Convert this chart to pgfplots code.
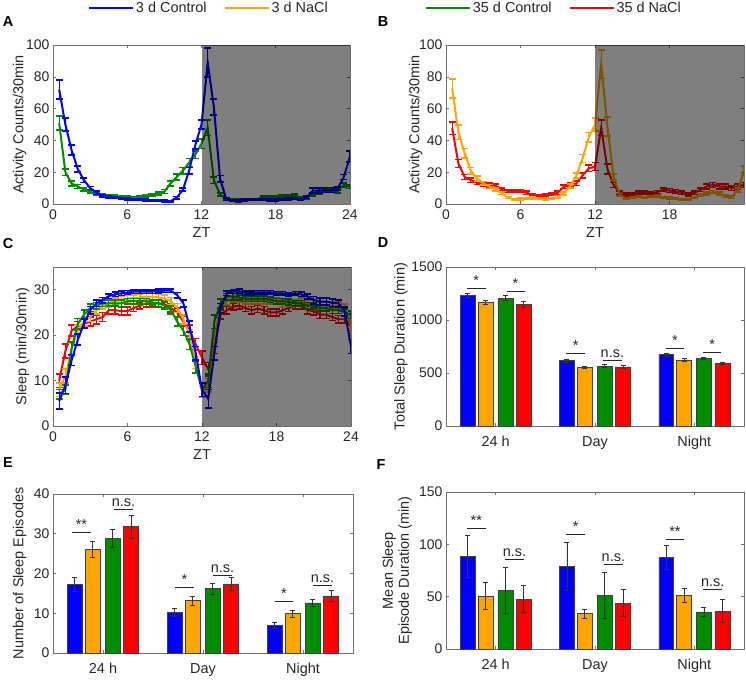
\documentclass[border=0pt]{standalone}
\usepackage{fontspec}
\setmainfont{Liberation Sans}
\usepackage{pgfplots}
\pgfplotsset{compat=1.18}
\definecolor{cblue}{RGB}{0,0,255}
\definecolor{corange}{RGB}{255,165,0}
\definecolor{cgreen}{RGB}{0,140,0}
\definecolor{cred}{RGB}{255,0,0}
\definecolor{axgray}{RGB}{110,110,110}
\definecolor{txt}{RGB}{38,38,38}
\pgfplotsset{
  base/.style={scale only axis, anchor=south west, tick align=inside, major tick length=3bp,
    axis line style={axgray, line width=0.6pt}, every tick/.style={axgray, line width=0.6pt},
    tick label style={font=\fontsize{14}{16}\selectfont, text=txt},
    label style={font=\fontsize{14.5}{16}\selectfont, text=txt},
    /pgf/number format/assume math mode=true, /pgf/number format/1000 sep={}},
  ts/.style={line width=2pt, forget plot, error bars/y dir=both, error bars/y explicit,
    error bars/error mark=-,
    error bars/error mark options={rotate=90, line width=1.6pt, mark size=3.5bp}, error bars/error bar style={line width=1.2pt}},
  bars/.style={ybar, bar width=0.15, bar shift=0pt, draw=black!75, line width=0.5pt,
    error bars/y dir=both, error bars/y explicit, error bars/error mark=-,
    error bars/error bar style={black!80, line width=0.7pt},
    error bars/error mark options={rotate=90, black!80, line width=0.8pt, mark size=2.5bp}},
  barax/.style={base, xmin=0.5, xmax=3.5, ymin=0, xtick={1,2,3}, xticklabels={24 h,Day,Night},
    xticklabel style={yshift=-7bp, font=\fontsize{14.5}{16}\selectfont}},
  lineax/.style={base, xmin=0, xmax=24, ymin=0, xlabel={ZT}, xticklabel style={yshift=-2bp},
    xlabel style={at={(axis description cs:0.5,-0.18)}, anchor=center}},
  leg/.style={legend style={draw=none, fill=none, anchor=center, font=\fontsize{14.5}{16}\selectfont, text=txt,
    legend columns=2, /tikz/every even column/.append style={column sep=15bp}},
    legend image code/.code={\draw[##1, line width=2pt] (0bp,0bp) -- (44bp,0bp);}},
}
\newcommand{\sig}[5]{%
  \draw[txt, line width=0.7pt] (axis cs:#1,#4) -- (axis cs:#2,#4);
  \node[anchor=base, inner sep=0pt, yshift=3bp, font=\fontsize{14.5}{16}\selectfont, text=txt] at (axis cs:#3,#4) {#5};}
\begin{document}
\begin{tikzpicture}
\useasboundingbox (0,0) rectangle (746bp,-680bp);
% panel letters
\node[font=\fontsize{14.5}{16}\selectfont\bfseries, text=black] at (8bp,-22bp) {A};
\node[font=\fontsize{14.5}{16}\selectfont\bfseries, text=black] at (383bp,-22bp) {B};
\node[font=\fontsize{14.5}{16}\selectfont\bfseries, text=black] at (8bp,-244bp) {C};
\node[font=\fontsize{14.5}{16}\selectfont\bfseries, text=black] at (383bp,-243bp) {D};
\node[font=\fontsize{14.5}{16}\selectfont\bfseries, text=black] at (8bp,-463bp) {E};
\node[font=\fontsize{14.5}{16}\selectfont\bfseries, text=black] at (381bp,-465bp) {F};

% ---------------- A ----------------
\begin{axis}[lineax, leg, at={(53bp,-204bp)}, width=297bp, height=159bp,
  ymax=100, xtick={0,6,12,18,24}, ytick={0,20,40,60,80,100},
  ylabel={Activity Counts/30min},
  ylabel style={at={(axis description cs:-0.112,0.5)}, anchor=center},
  legend style={at={(axis description cs:0.525,1.233)}}]
\addlegendimage{cblue}\addlegendentry{3 d Control}
\addlegendimage{corange}\addlegendentry{3 d NaCl}
\addplot[cgreen, ts] table[x=x, y=y, y error=e] {
x y e
0.5 51 4.5
1 20 2
1.5 13 1.5
2 11 1.2
2.5 9.2 1
3 7.8 1
3.5 6.3 0.8
4 5.5 0.7
4.5 5 0.6
5 5 0.6
5.5 4.6 0.6
6 4.4 0.6
6.5 4.2 0.6
7 4.4 0.6
7.5 5 0.7
8 5.9 0.8
8.5 6.7 1
9 7.8 1.2
9.5 13 1.5
10 17 1.8
10.5 21 2
11 26 2.5
11.5 31 2.5
12 38 3
12.5 48 5
13 15 2
13.5 6 1
14 3 0.6
14.5 2.5 0.5
15 2.5 0.5
15.5 2.5 0.5
16 3 0.5
16.5 3 0.5
17 4.5 0.6
17.5 4.5 0.6
18 4.5 0.6
18.5 5 0.7
19 5 0.7
19.5 5.5 0.8
20 4 0.7
20.5 4 0.7
21 6 0.8
21.5 7 1
22 8.5 1
22.5 8.5 1
23 8 1
23.5 12 1.2
24 11 1.2
};
\addplot[cblue, ts] table[x=x, y=y, y error=e] {
x y e
0.5 72 6
1 50 4
1.5 34 3
2 22 2
2.5 15 1.5
3 10 1
3.5 7 1
4 5.2 0.8
4.5 4.6 0.7
5 4.2 0.6
5.5 3.6 0.6
6 3.1 0.5
6.5 2.9 0.5
7 2.7 0.5
7.5 2.5 0.5
8 2.3 0.5
8.5 2.1 0.5
9 1.9 0.5
9.5 1.7 0.5
10 4 0.8
10.5 9 1
11 21 2
11.5 37 2.5
12 50 3
12.5 89 9
13 61 5
13.5 16 2
14 3 0.7
14.5 2.1 0.5
15 1.9 0.5
15.5 2.5 0.5
16 2.9 0.5
16.5 2.9 0.5
17 2.9 0.5
17.5 2.5 0.5
18 2.5 0.5
18.5 2.9 0.5
19 3.1 0.5
19.5 3.4 0.6
20 2.9 0.6
20.5 4.2 0.8
21 8.4 1.5
21.5 8.4 1.5
22 8.8 1.5
22.5 8.8 1.5
23 9.6 1.2
23.5 17 1.5
24 30 3.5
};
\fill[black, opacity=0.5] (axis cs:12,0) rectangle (axis cs:24,100);
\end{axis}

% ---------------- B ----------------
\begin{axis}[lineax, leg, at={(446bp,-204bp)}, width=298bp, height=159bp,
  ymax=100, xtick={0,6,12,18}, ytick={0,20,40,60,80,100},
  ylabel={Activity Counts/30min},
  ylabel style={at={(axis description cs:-0.102,0.5)}, anchor=center},
  legend style={at={(axis description cs:0.362,1.233)}}]
\addlegendimage{cgreen}\addlegendentry{35 d Control}
\addlegendimage{cred}\addlegendentry{35 d NaCl}
\addplot[cred, ts] table[x=x, y=y, y error=e] {
x y e
0.5 47.6 4
1 25.5 2.5
1.5 17 1.5
2 15 1.5
2.5 13.4 1.2
3 12.4 1.2
3.5 12 1.2
4 11.5 1.2
4.5 9.2 1
5 8.2 1
5.5 8.2 1
6 8.2 1
6.5 7.1 1
7 5.7 0.8
7.5 5.2 0.8
8 5.7 0.8
8.5 6.1 0.8
9 7.1 1
9.5 10.9 1.2
10 12 1.2
10.5 13 1.3
11 18 1.5
11.5 22.4 2
12 23.5 2.5
12.5 48 5
13 22 3
13.5 12 1.5
14 7 1
14.5 6 0.8
15 6 0.8
15.5 7 1
16 7 1
16.5 6.5 1
17 7.5 1
17.5 9 1.2
18 8.5 1.2
18.5 8 1.2
19 7 1
19.5 6 1
20 7 1
20.5 9 1.2
21 11 1.5
21.5 12 1.5
22 11 1.5
22.5 11 1.5
23 10 1.5
23.5 11 1.5
24 12 1.5
};
\addplot[corange, ts] table[x=x, y=y, y error=e] {
x y e
0.5 72.7 6
1 45 4.5
1.5 32 3
2 21 2
2.5 16 1.5
3 13 1.2
3.5 11 1.2
4 9.2 1
4.5 6.7 0.8
5 4 0.6
5.5 2.9 0.5
6 3.1 0.5
6.5 3.6 0.5
7 3.8 0.5
7.5 3.4 0.5
8 3.1 0.5
8.5 3.6 0.6
9 4.6 0.7
9.5 6.7 1
10 11.3 1.2
10.5 18 1.5
11 28.7 2.5
11.5 42 3
12 50 4
12.5 88 9
13 48.6 6
13.5 17 2
14 5.7 0.8
14.5 3.6 0.6
15 4.2 0.6
15.5 4.6 0.6
16 4.2 0.6
16.5 4.6 0.6
17 5 0.6
17.5 4.2 0.6
18 3.8 0.6
18.5 3.4 0.6
19 2.9 0.5
19.5 2.9 0.5
20 4.2 0.6
20.5 5.7 0.8
21 6.7 1
21.5 7.5 1
22 6.7 1
22.5 5 0.8
23 4.2 0.8
23.5 8.8 1.2
24 21 3
};
\fill[black, opacity=0.5] (axis cs:12,0) rectangle (axis cs:24,100);
\end{axis}

% ---------------- C ----------------
\begin{axis}[lineax, at={(53bp,-426bp)}, width=298bp, height=159bp,
  ymax=35, xtick={0,6,12,18,24}, ytick={0,10,20,30},
  ylabel={Sleep (min/30min)},
  ylabel style={at={(axis description cs:-0.102,0.5)}, anchor=center}]
\addplot[cred, ts] table[x=x, y=y, y error=e] {
x y e
0.5 10 1.5
1 16.5 1.5
1.5 21 1.2
2 22 1
2.5 22.5 1
3 23 1
3.5 23.5 1
4 24 1
4.5 25.5 0.9
5 25.5 0.9
5.5 25.3 0.9
6 25.3 0.9
6.5 26 0.8
7 26.5 0.8
7.5 27 0.8
8 27 0.8
8.5 27 0.8
9 26.8 0.8
9.5 26 0.9
10 25 1
10.5 23 1.1
11 21 1.2
11.5 18 1.3
12 15 1.5
12.5 12.5 1.5
13 17.5 1.5
13.5 24.5 1
14 25.5 0.9
14.5 26.3 0.8
15 26.5 0.8
15.5 26 0.8
16 25.5 0.8
16.5 25.8 0.8
17 25.5 0.8
17.5 25 0.8
18 25 0.8
18.5 25.5 0.8
19 26 0.8
19.5 26.5 0.8
20 26.5 0.8
20.5 25.5 0.8
21 25.3 0.8
21.5 24.5 0.8
22 24.5 0.8
22.5 24 0.8
23 23.5 0.8
23.5 23.5 0.8
24 22 1
};
\addplot[corange, ts] table[x=x, y=y, y error=e] {
x y e
0.5 8 1.5
1 11 1.5
1.5 17 1.3
2 21 1.2
2.5 23 1
3 24 1
3.5 25.5 0.8
4 26.5 0.8
4.5 27 0.8
5 27.5 0.7
5.5 27.8 0.7
6 28 0.7
6.5 28.2 0.7
7 28.3 0.7
7.5 28.5 0.7
8 28.5 0.7
8.5 28.3 0.7
9 28 0.8
9.5 27.5 0.8
10 26 1
10.5 23.5 1
11 20 1.2
11.5 14 1.3
12 7.5 1.2
12.5 9 1.5
13 20 1.5
13.5 26 1
14 27.5 0.8
14.5 28 0.7
15 28 0.7
15.5 27.5 0.7
16 27.5 0.7
16.5 27.5 0.7
17 27.5 0.7
17.5 27.5 0.7
18 27.5 0.7
18.5 27 0.7
19 27 0.7
19.5 27 0.7
20 27.5 0.7
20.5 27 0.7
21 27 0.7
21.5 26.5 0.8
22 26.5 0.8
22.5 26.5 0.8
23 26.5 0.8
23.5 26 0.8
24 22 1.5
};
\addplot[cgreen, ts] table[x=x, y=y, y error=e] {
x y e
0.5 7 1
1 8 1
1.5 17 1.5
2 22.5 1.2
2.5 24.5 1
3 26 0.8
3.5 26.5 0.7
4 27 0.7
4.5 27 0.7
5 27 0.7
5.5 27 0.7
6 27.5 0.6
6.5 27.5 0.6
7 27.5 0.6
7.5 27.5 0.6
8 27.2 0.6
8.5 27 0.7
9 26.5 0.8
9.5 25.5 0.9
10 23 1
10.5 21 1.1
11 18 1.2
11.5 13 1.3
12 8 1.5
12.5 10 1.5
13 23 1.5
13.5 27 1
14 28.5 0.7
14.5 28.5 0.7
15 28.3 0.6
15.5 28 0.6
16 28 0.6
16.5 28 0.6
17 28 0.6
17.5 27.8 0.6
18 27.5 0.6
18.5 27.5 0.6
19 27.3 0.6
19.5 27 0.6
20 27 0.6
20.5 26.5 0.7
21 26.5 0.7
21.5 26 0.7
22 26 0.7
22.5 25.5 0.7
23 25.5 0.7
23.5 25 0.8
24 24.5 0.8
};
\addplot[cblue, ts] table[x=x, y=y, y error=e] {
x y e
0.5 5.5 1.8
1 9 1.8
1.5 14.5 1.2
2 19 1.2
2.5 22.6 1
3 25.5 0.8
3.5 27 0.7
4 27.7 0.6
4.5 28.6 0.5
5 29 0.5
5.5 29.2 0.5
6 29.4 0.4
6.5 29.6 0.4
7 29.6 0.4
7.5 29.6 0.4
8 29.6 0.4
8.5 29.7 0.4
9 29.8 0.4
9.5 29.8 0.4
10 28.8 0.6
10.5 27 0.8
11 21.9 1.2
11.5 16 1.5
12 8 1.5
12.5 6 2
13 16 1.5
13.5 26 1
14 29.2 0.5
14.5 29.6 0.4
15 29.7 0.4
15.5 29.3 0.4
16 29.3 0.4
16.5 29.4 0.4
17 29.4 0.4
17.5 29.4 0.4
18 29.2 0.4
18.5 29.2 0.4
19 29 0.4
19.5 29.2 0.4
20 29 0.5
20.5 28.5 0.5
21 27.7 0.8
21.5 27.4 0.8
22 27.4 0.8
22.5 27.1 0.8
23 27 0.8
23.5 25.2 1
24 17.5 1.5
};
\fill[black, opacity=0.5] (axis cs:12,0) rectangle (axis cs:24,35);
\end{axis}

% ---------------- D ----------------
\begin{axis}[barax, at={(446bp,-426bp)}, width=298bp, height=159bp,
  ymax=1500, ytick={0,500,1000,1500}, ylabel={Total Sleep Duration (min)},
  ylabel style={at={(axis description cs:-0.151,0.5)}, anchor=center}]
\addplot[fill=cblue, bars] coordinates {(0.717,1231) +- (0,20) (1.717,616) +- (0,15) (2.717,673) +- (0,12)};
\addplot[fill=corange, bars] coordinates {(0.896,1168) +- (0,20) (1.896,553) +- (0,10) (2.896,625) +- (0,12)};
\addplot[fill=cgreen, bars] coordinates {(1.097,1206) +- (0,25) (2.097,565) +- (0,15) (3.097,638) +- (0,8)};
\addplot[fill=cred, bars] coordinates {(1.282,1149) +- (0,30) (2.282,559) +- (0,15) (3.282,590) +- (0,12)};
\sig{0.71}{0.90}{0.805}{1295}{*}
\sig{1.11}{1.295}{1.2}{1270}{*}
\sig{1.71}{1.90}{1.805}{685}{*}
\sig{2.08}{2.27}{2.175}{622}{n.s.}
\sig{2.71}{2.90}{2.805}{733}{*}
\sig{3.09}{3.27}{3.18}{695}{*}
\end{axis}

% ---------------- E ----------------
\begin{axis}[barax, at={(53bp,-653bp)}, width=300bp, height=159bp,
  ymax=40, ytick={0,10,20,30,40}, ylabel={Number of Sleep Episodes},
  ylabel style={at={(axis description cs:-0.111,0.5)}, anchor=center}]
\addplot[fill=cblue, bars] coordinates {(0.717,17.2) +- (0,1.7) (1.717,10.2) +- (0,0.9) (2.717,6.9) +- (0,0.8)};
\addplot[fill=corange, bars] coordinates {(0.896,26.1) +- (0,2.0) (1.896,13.2) +- (0,1.1) (2.896,9.9) +- (0,0.9)};
\addplot[fill=cgreen, bars] coordinates {(1.097,28.8) +- (0,2.3) (2.097,16.2) +- (0,1.4) (3.097,12.6) +- (0,0.9)};
\addplot[fill=cred, bars] coordinates {(1.282,31.8) +- (0,2.9) (2.282,17.4) +- (0,1.7) (3.282,14.4) +- (0,1.4)};
\sig{0.69}{0.88}{0.785}{30.3}{**}
\sig{1.11}{1.30}{1.205}{36.1}{n.s.}
\sig{1.72}{1.91}{1.815}{16.6}{*}
\sig{2.10}{2.29}{2.195}{19.5}{n.s.}
\sig{2.72}{2.90}{2.81}{13.0}{*}
\sig{3.10}{3.29}{3.195}{17.0}{n.s.}
\end{axis}

% ---------------- F ----------------
\begin{axis}[barax, at={(446bp,-649bp)}, width=298bp, height=157bp,
  ymax=150, ytick={0,50,100,150}, ylabel={Mean Sleep\\Episode Duration (min)},
  ylabel style={at={(axis description cs:-0.164,0.5)}, anchor=center, align=center}]
\addplot[fill=cblue, bars] coordinates {(0.717,88.8) +- (0,20) (1.717,79) +- (0,23) (2.717,87.2) +- (0,11.5)};
\addplot[fill=corange, bars] coordinates {(0.896,50.7) +- (0,12.7) (1.896,33.9) +- (0,4.3) (2.896,51.1) +- (0,7)};
\addplot[fill=cgreen, bars] coordinates {(1.097,56.1) +- (0,21.7) (2.097,51.4) +- (0,22) (3.097,35.5) +- (0,4.5)};
\addplot[fill=cred, bars] coordinates {(1.282,47.6) +- (0,12.7) (2.282,43.8) +- (0,12.7) (3.282,36.2) +- (0,11)};
\sig{0.71}{0.90}{0.805}{115.4}{**}
\sig{1.09}{1.29}{1.19}{85.6}{n.s.}
\sig{1.71}{1.90}{1.805}{109.4}{*}
\sig{2.09}{2.28}{2.185}{80.9}{n.s.}
\sig{2.71}{2.90}{2.805}{104.7}{**}
\sig{3.09}{3.28}{3.185}{57.1}{n.s.}
\end{axis}
\end{tikzpicture}
\end{document}
